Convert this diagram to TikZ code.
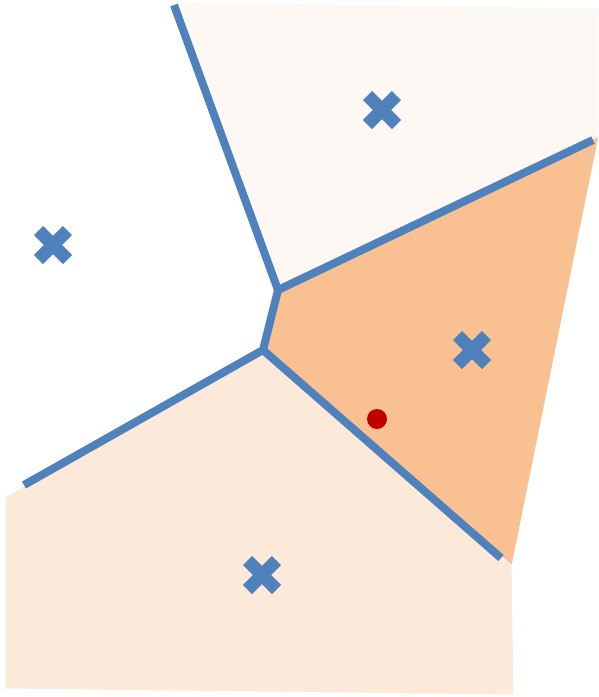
\documentclass[tikz,border=0pt]{standalone}
\usepackage{tikz}
\usetikzlibrary{shapes.misc}

\definecolor{edgeblue}{RGB}{79,129,189}
\definecolor{cellpale}{RGB}{254,248,244}
\definecolor{cellorange}{RGB}{249,193,145}
\definecolor{celllight}{RGB}{252,233,218}
\definecolor{querydot}{RGB}{192,0,0}

\begin{document}
\begin{tikzpicture}[
  x=1pt, y=-1pt,
  cell/.style={draw=white, line width=1pt},
  edge/.style={draw=edgeblue, line width=8pt, line join=round},
  site/.style={cross out, draw=edgeblue, line width=13pt,
               minimum size=16pt, inner sep=0pt},
  query/.style={circle, fill=querydot, minimum size=20pt, inner sep=0pt}
]
\useasboundingbox (0,0) rectangle (599,697);

% voronoi vertices and free ends
\coordinate (v1) at (278,290);
\coordinate (v2) at (263,350);
\coordinate (e1) at (174,5);
\coordinate (e2) at (593,140);
\coordinate (e3) at (24,485);
\coordinate (e4) at (501,558);

% cells
\fill[cell, fill=cellpale] (176,2) -- (599,8) -- (599,137) -- (v1) -- cycle;
\fill[cell, fill=celllight] (5,497) -- (v2) -- (512,566) -- (514,695) -- (5,689) -- cycle;
\fill[cell, fill=cellorange] (v1) -- (599,136) -- (512,566) -- (v2) -- cycle;

% edges
\draw[edge] (e3) -- (v2) -- (v1) -- (e2);
\draw[edge] (e1) -- (v1);
\draw[edge] (v2) -- (e4);

% sites
\node[site] (s1) at (382,110) {};
\node[site] (s2) at (53,245) {};
\node[site] (s3) at (472,350) {};
\node[site] (s4) at (262,575) {};

\node[query] (q) at (377,419) {};

\end{tikzpicture}
\end{document}
